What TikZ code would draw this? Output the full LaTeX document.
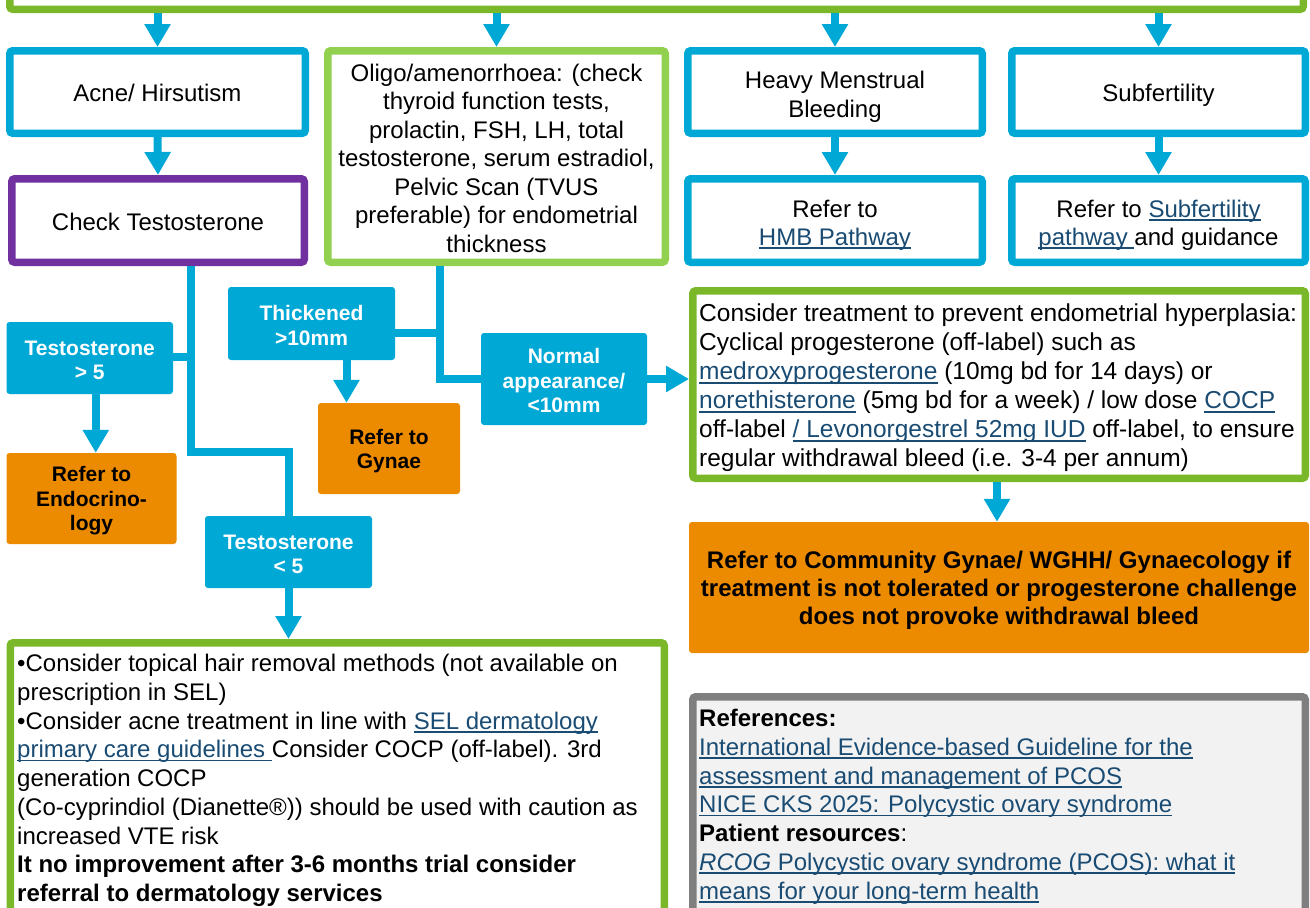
\documentclass[tikz,border=0pt]{standalone}
\usepackage{fontspec}
\setmainfont{Liberation Sans}
\usetikzlibrary{arrows.meta}
\definecolor{cblue}{RGB}{0,168,214}
\definecolor{cgreen}{RGB}{122,184,42}
\definecolor{clgreen}{RGB}{146,208,80}
\definecolor{cpurple}{RGB}{112,48,160}
\definecolor{corange}{RGB}{237,139,0}
\definecolor{cgray}{RGB}{127,127,127}
\definecolor{cgrayfill}{RGB}{242,242,242}
\definecolor{linkc}{RGB}{25,75,115}
\newcommand\lnk[1]{{\color{linkc}\setbox0\hbox{#1}\rlap{\rule[-3.6pt]{\wd0}{1.7pt}}\box0}}
\newcommand\tp[1]{\rule{0pt}{#1pt}}
\tikzset{
  box/.style={draw, line width=7.5pt, rounded corners=3pt, fill=white, inner sep=0pt,
    align=center, font=\fontsize{24}{28.5}\selectfont},
  bluebox/.style={box, draw=cblue},
  greenbox/.style={box, draw=cgreen},
  lgreenbox/.style={box, draw=clgreen},
  purplebox/.style={box, draw=cpurple},
  graybox/.style={box, draw=cgray, fill=cgrayfill},
  lab/.style={fill=cblue, rounded corners=3pt, text=white, align=center, inner sep=0pt,
    font=\bfseries\fontsize{21}{24.5}\selectfont},
  org/.style={fill=corange, rounded corners=3pt, text=black, align=center, inner sep=0pt,
    font=\bfseries\fontsize{21}{24.5}\selectfont},
  sz/.style 2 args={minimum width=#1pt, minimum height=#2pt},
  txt/.style={anchor=north west, inner sep=0pt, align=left, font=\fontsize{24}{28.75}\selectfont},
  conn/.style={cblue, line width=8pt},
  arr/.style={conn, -{Triangle[width=25pt,length=23pt]}},
}
\begin{document}
\begin{tikzpicture}[x=1pt,y=-1pt]
\useasboundingbox (0,0) rectangle (1310,908);
\begin{scope}
\clip (0,0) rectangle (1310,908);
% top (cut off) box
\node[greenbox, sz={1293.5}{105.5}] (top) at (656.5,-43.5) {};
% row 1
\node[bluebox, sz={295.5}{82.5}] (acne) at (157.5,92) {\tp{19.5}Acne/ Hirsutism};
\node[lgreenbox, sz={337.5}{211.5}] (oligo) at (496.5,156.5) {\tp{20.5}Oligo/amenorrhoea: (check\\thyroid function tests,\\prolactin, FSH, LH, total\\testosterone, serum estradiol,\\Pelvic Scan (TVUS\\preferable) for endometrial\\thickness};
\node[bluebox, sz={294.5}{82.5}] (hmb) at (835,92) {\tp{26.5}Heavy Menstrual\\Bleeding};
\node[bluebox, sz={293.5}{82.5}] (subf) at (1158.5,92) {\tp{23.5}Subfertility};
% row 2
\node[purplebox, sz={292.5}{83.5}] (check) at (158,220.5) {\tp{19.5}Check Testosterone};
\node[bluebox, sz={294.5}{83.5}] (refhmb) at (835,220.5) {\tp{26.5}Refer to\\\lnk{HMB Pathway}};
\node[bluebox, sz={293.5}{83.5}] (refsub) at (1158.5,220.5) {\tp{26.5}Refer to \lnk{Subfertility}\\\lnk{pathway\ }and guidance};
% labels
\node[lab, sz={166.5}{72}] (tgt5) at (89.75,358) {\tp{19.5}Testosterone\\> 5};
\node[org, sz={170}{91}] (endo) at (91.5,498.5) {\tp{20}Refer to\\Endocrino-\\logy};
\node[lab, sz={167}{73}] (thick) at (311.5,323.5) {\tp{19.5}Thickened\\>10mm};
\node[org, sz={142}{91}] (gynae) at (389,448.5) {\tp{20}Refer to\\Gynae};
\node[lab, sz={166}{92}] (normal) at (564,379) {\tp{19}Normal\\appearance/\\<10mm};
\node[lab, sz={167}{72}] (tlt5) at (288.5,552) {\tp{19.5}Testosterone\\< 5};
% treatment
\node[greenbox, sz={612.5}{187.5}] (treat) at (999,384.5) {};
\node[txt, font=\fontsize{24.5}{29}\selectfont] (treattxt) at (699,304) {Consider treatment to prevent endometrial hyperplasia:\\Cyclical progesterone (off-label) such as\\\lnk{medroxyprogesterone} (10mg bd for 14 days) or\\\lnk{norethisterone} (5mg bd for a week) / low dose \lnk{COCP}\\off-label \lnk{/ Levonorgestrel 52mg IUD} off-label, to ensure\\regular withdrawal bleed (i.e. 3-4 per annum)};
\node[org, sz={620}{131}, font=\bfseries\fontsize{24}{28}\selectfont] (bigor) at (999,587.5) {\tp{22.5}Refer to Community Gynae/ WGHH/ Gynaecology if\\treatment is not tolerated or progesterone challenge\\does not provoke withdrawal bleed};
% references
\node[graybox, sz={612.5}{239.5}] (refs) at (999,816.5) {};
\node[txt] (refstxt) at (699,709) {\textbf{References:}\\\lnk{International Evidence-based Guideline for the}\\\lnk{assessment and management of PCOS}\\\lnk{NICE CKS 2025: Polycystic ovary syndrome}\\\textbf{Patient resources}:\\\lnk{\textit{RCOG} Polycystic ovary syndrome (PCOS): what it}\\\lnk{means for your long-term health}};
% bottom left
\node[greenbox, sz={654}{293.5}] (botl) at (337.25,789.5) {};
\node[txt] (botltxt) at (17,654) {•Consider topical hair removal methods (not available on\\prescription in SEL)\\•Consider acne treatment in line with \lnk{SEL dermatology}\\\lnk{primary care guidelines\ }Consider COCP (off-label). 3rd\\generation COCP\\(Co-cyprindiol (Dianette®)) should be used with caution as\\increased VTE risk\\\textbf{It no improvement after 3-6 months trial consider}\\\textbf{referral to dermatology services}};
% connectors
\coordinate (j1) at (191,357);
\coordinate (j2) at (191,452);
\coordinate (j3) at (440,333);
\coordinate (j4) at (440,379);
\draw[conn] (check.south -| j1) -- (j2) -| (tlt5.north);
\draw[conn] (j1 -| tgt5.east) -- (j1);
\draw[conn] (oligo.south -| j3) -- (j4) -- (normal.west);
\draw[conn] (j3 -| thick.east) -- (j3);
% arrows
\draw[arr] (top.south -| acne.north) -- (acne.north);
\draw[arr] (top.south -| oligo.north) -- (oligo.north);
\draw[arr] (top.south -| hmb.north) -- (hmb.north);
\draw[arr] (top.south -| subf.north) -- (subf.north);
\draw[arr] (acne.south) -- (check.north);
\draw[arr] (hmb.south) -- (refhmb.north);
\draw[arr] (subf.south) -- (refsub.north);
\draw[arr] ([xshift=6pt]tgt5.south) -- ([xshift=6pt]tgt5.south |- endo.north);
\draw[arr] ([xshift=35pt]thick.south) -- ([xshift=35pt]thick.south |- gynae.north);
\draw[arr] (tlt5.south) -- (tlt5.south |- botl.north);
\draw[arr] (normal.east) -- (normal.east -| treat.west);
\draw[arr] ([xshift=-2pt]treat.south) -- ([xshift=-2pt]treat.south |- bigor.north);
\end{scope}
\end{tikzpicture}
\end{document}
